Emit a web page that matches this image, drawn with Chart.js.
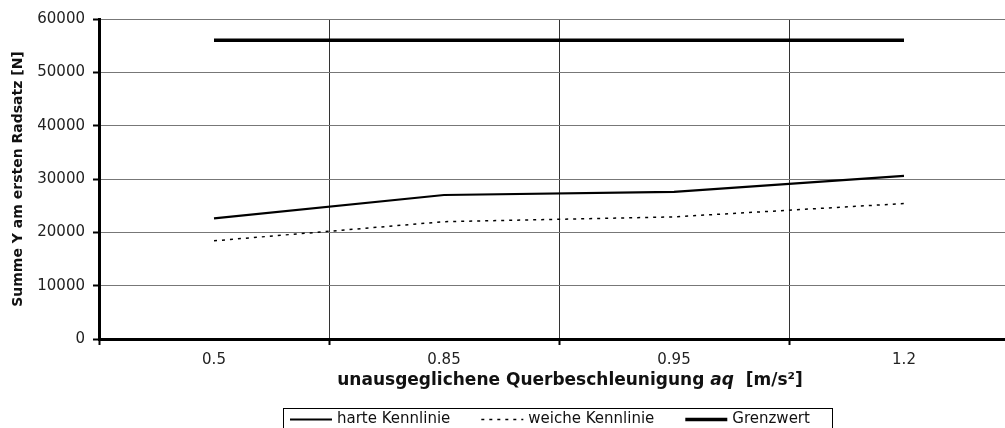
<!DOCTYPE html>
<html>
<head>
<meta charset="utf-8">
<script src="https://cdn.jsdelivr.net/npm/chart.js@4.4.1/dist/chart.umd.min.js"></script>
<style>
  html, body { margin: 0; padding: 0; background: #fff; overflow: hidden; }
  #wrap { width: 1005px; height: 428px; position: relative; overflow: hidden; }
</style>
</head>
<body>
<div id="wrap"><canvas id="c" width="1019" height="428"></canvas></div>
<script>
// ---- data ----
const categories = ['0.5', '0.85', '0.95', '1.2'];
const harteKennlinie = [22600, 27000, 27600, 30600];
const weicheKennlinie = [18400, 22000, 22900, 25400];
const grenzwert = [56000, 56000, 56000, 56000];
const seriesNames = ['harte Kennlinie', 'weiche Kennlinie', 'Grenzwert'];
const yMin = 0, yMax = 60000, yStep = 10000;
const yTitle = 'Summe Y am ersten Radsatz [N]';
const xTitleParts = [
  { text: 'unausgeglichene Querbeschleunigung ', italic: false },
  { text: 'aq', italic: true },
  { text: '  [m/s²]', italic: false }
];

const FONT = '"DejaVu Sans", "Liberation Sans", Arial, sans-serif';

// x-axis title with italic part, and boxed legend (Excel style)
const excelDecor = {
  id: 'excelDecor',
  afterDraw(chart) {
    const ctx = chart.ctx;
    const area = chart.chartArea;
    ctx.save();
    // x title
    ctx.fillStyle = '#111';
    ctx.textBaseline = 'middle';
    ctx.textAlign = 'left';
    const fs = 17;
    let total = 0;
    const widths = xTitleParts.map(p => {
      ctx.font = (p.italic ? 'italic ' : '') + 'bold ' + fs + 'px ' + FONT;
      const w = ctx.measureText(p.text).width;
      total += w;
      return w;
    });
    let x = (area.left + area.right) / 2 + 11 - total / 2;
    const ty = area.bottom + 42;
    xTitleParts.forEach((p, i) => {
      ctx.font = (p.italic ? 'italic ' : '') + 'bold ' + fs + 'px ' + FONT;
      ctx.fillText(p.text, x, ty);
      x += widths[i];
    });

    // legend
    ctx.font = '15px ' + FONT;
    const sampleLen = 42, gapS = 5, gapItem = 31;
    const boxLeft = 283, boxTop = 408.5, boxRight = 832;
    ctx.strokeStyle = '#000';
    ctx.lineWidth = 1;
    ctx.setLineDash([]);
    ctx.strokeRect(boxLeft + 0.5, boxTop, boxRight - boxLeft, 40);
    let lx = boxLeft + 7;
    const ly = 419.5;
    chart.data.datasets.forEach(ds => {
      const w = ctx.measureText(ds.label).width;
      ctx.beginPath();
      ctx.strokeStyle = ds.borderColor;
      ctx.lineWidth = ds.borderWidth;
      ctx.setLineDash(ds.borderDash || []);
      ctx.moveTo(lx, ly);
      ctx.lineTo(lx + sampleLen, ly);
      ctx.stroke();
      ctx.setLineDash([]);
      lx += sampleLen + gapS;
      ctx.fillStyle = '#111';
      ctx.fillText(ds.label, lx, ly);
      lx += w + gapItem;
    });
    ctx.restore();
  }
};

new Chart(document.getElementById('c'), {
  type: 'line',
  data: {
    labels: categories,
    datasets: [
      { label: seriesNames[0], data: harteKennlinie, borderColor: '#000', borderWidth: 2.2, pointRadius: 0, fill: false, tension: 0 },
      { label: seriesNames[1], data: weicheKennlinie, borderColor: '#000', borderWidth: 1.5, borderDash: [3, 5], pointRadius: 0, fill: false, tension: 0 },
      { label: seriesNames[2], data: grenzwert, borderColor: '#000', borderWidth: 3.5, pointRadius: 0, fill: false, tension: 0 }
    ]
  },
  options: {
    responsive: false,
    animation: false,
    devicePixelRatio: 1,
    layout: { autoPadding: false, padding: { left: 0, top: 19, right: 0, bottom: 0 } },
    plugins: { legend: { display: false }, tooltip: { enabled: false }, title: { display: false } },
    scales: {
      x: {
        type: 'category',
        offset: true,
        grid: { offset: true, color: '#333', lineWidth: 1, tickLength: 6, tickColor: '#000', tickWidth: 2, drawOnChartArea: true },
        border: { color: '#000', width: 3 },
        ticks: { color: '#222', font: { family: FONT, size: 15 }, padding: 6, maxRotation: 0 },
        afterFit(scale) { scale.height = 89; }
      },
      y: {
        min: yMin, max: yMax,
        ticks: { stepSize: yStep, color: '#222', font: { family: FONT, size: 15 }, padding: 8, callback: v => String(v) },
        grid: { color: '#777', lineWidth: 1, tickLength: 6, tickColor: '#000', tickWidth: 2 },
        border: { color: '#000', width: 3 },
        title: { display: true, text: yTitle, color: '#111', font: { family: FONT, size: 14, weight: 'bold' }, padding: { top: 10, bottom: 0 } },
        afterFit(scale) { scale.width = 99; }
      }
    }
  },
  plugins: [excelDecor]
});
</script>
</body>
</html>
